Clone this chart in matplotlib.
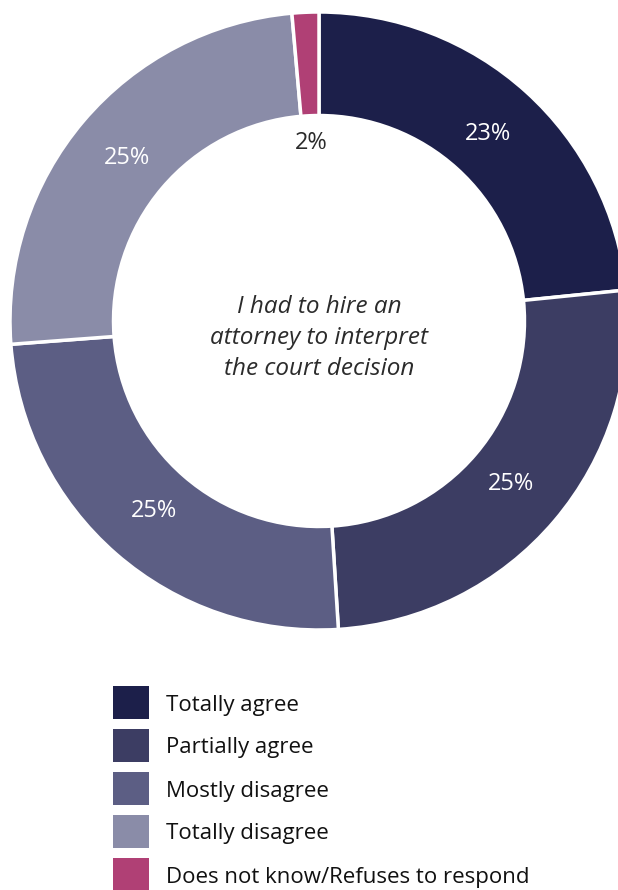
import matplotlib.pyplot as plt
from matplotlib.patches import Rectangle
import numpy as np

plt.rcParams['font.family'] = ['Open Sans', 'DejaVu Sans']

# data
categories = ['Totally agree', 'Partially agree', 'Mostly disagree',
              'Totally disagree', 'Does not know/Refuses to respond']
shares = [23.4, 25.6, 24.8, 24.8, 1.4]
labels = ['23%', '25%', '25%', '25%', '2%']
colors = ['#1c1f4a', '#3c3d63', '#5c5e84', '#8a8ca8', '#b04075']
center_text = 'I had to hire an\nattorney to interpret\nthe court decision'

W, H = 618, 890
fig = plt.figure(figsize=(W / 100, H / 100), dpi=100)
ax = fig.add_axes([0, 0, 1, 1])

# donut, in pixel-like data coords
cx, cy, r = 319, H - 321, 309
wedges, _ = ax.pie(shares, colors=colors, startangle=90, counterclock=False,
                   center=(cx, cy), radius=r, frame=True,
                   wedgeprops=dict(width=r * 0.335, edgecolor='white', linewidth=2.5))
ax.set_xlim(0, W)
ax.set_ylim(0, H)
ax.set_aspect('equal')
ax.axis('off')

# percentage labels
for w, lab, s in zip(wedges, labels, shares):
    mid = np.deg2rad((w.theta1 + w.theta2) / 2)
    if s < 5:
        rr, col = 0.575 * r, '#2b2b2b'
    else:
        rr, col = 0.815 * r, 'white'
    ax.text(cx + rr * np.cos(mid), cy + rr * np.sin(mid), lab,
            ha='center', va='center', fontsize=17, color=col)

ax.text(cx, cy - 17, center_text, ha='center', va='center', fontsize=17.5,
        style='italic', color='#2b2b2b', linespacing=1.39)

# legend: squares and labels
for i, (cat, c) in enumerate(zip(categories, colors)):
    top = 686 + 43 * i
    ax.add_patch(Rectangle((113, H - top - 33), 36, 33, facecolor=c,
                           edgecolor='none', clip_on=False))
    ax.text(166, H - top - 19, cat, ha='left', va='center', fontsize=16,
            color='#111111')

fig.savefig('out.png', dpi=100)
